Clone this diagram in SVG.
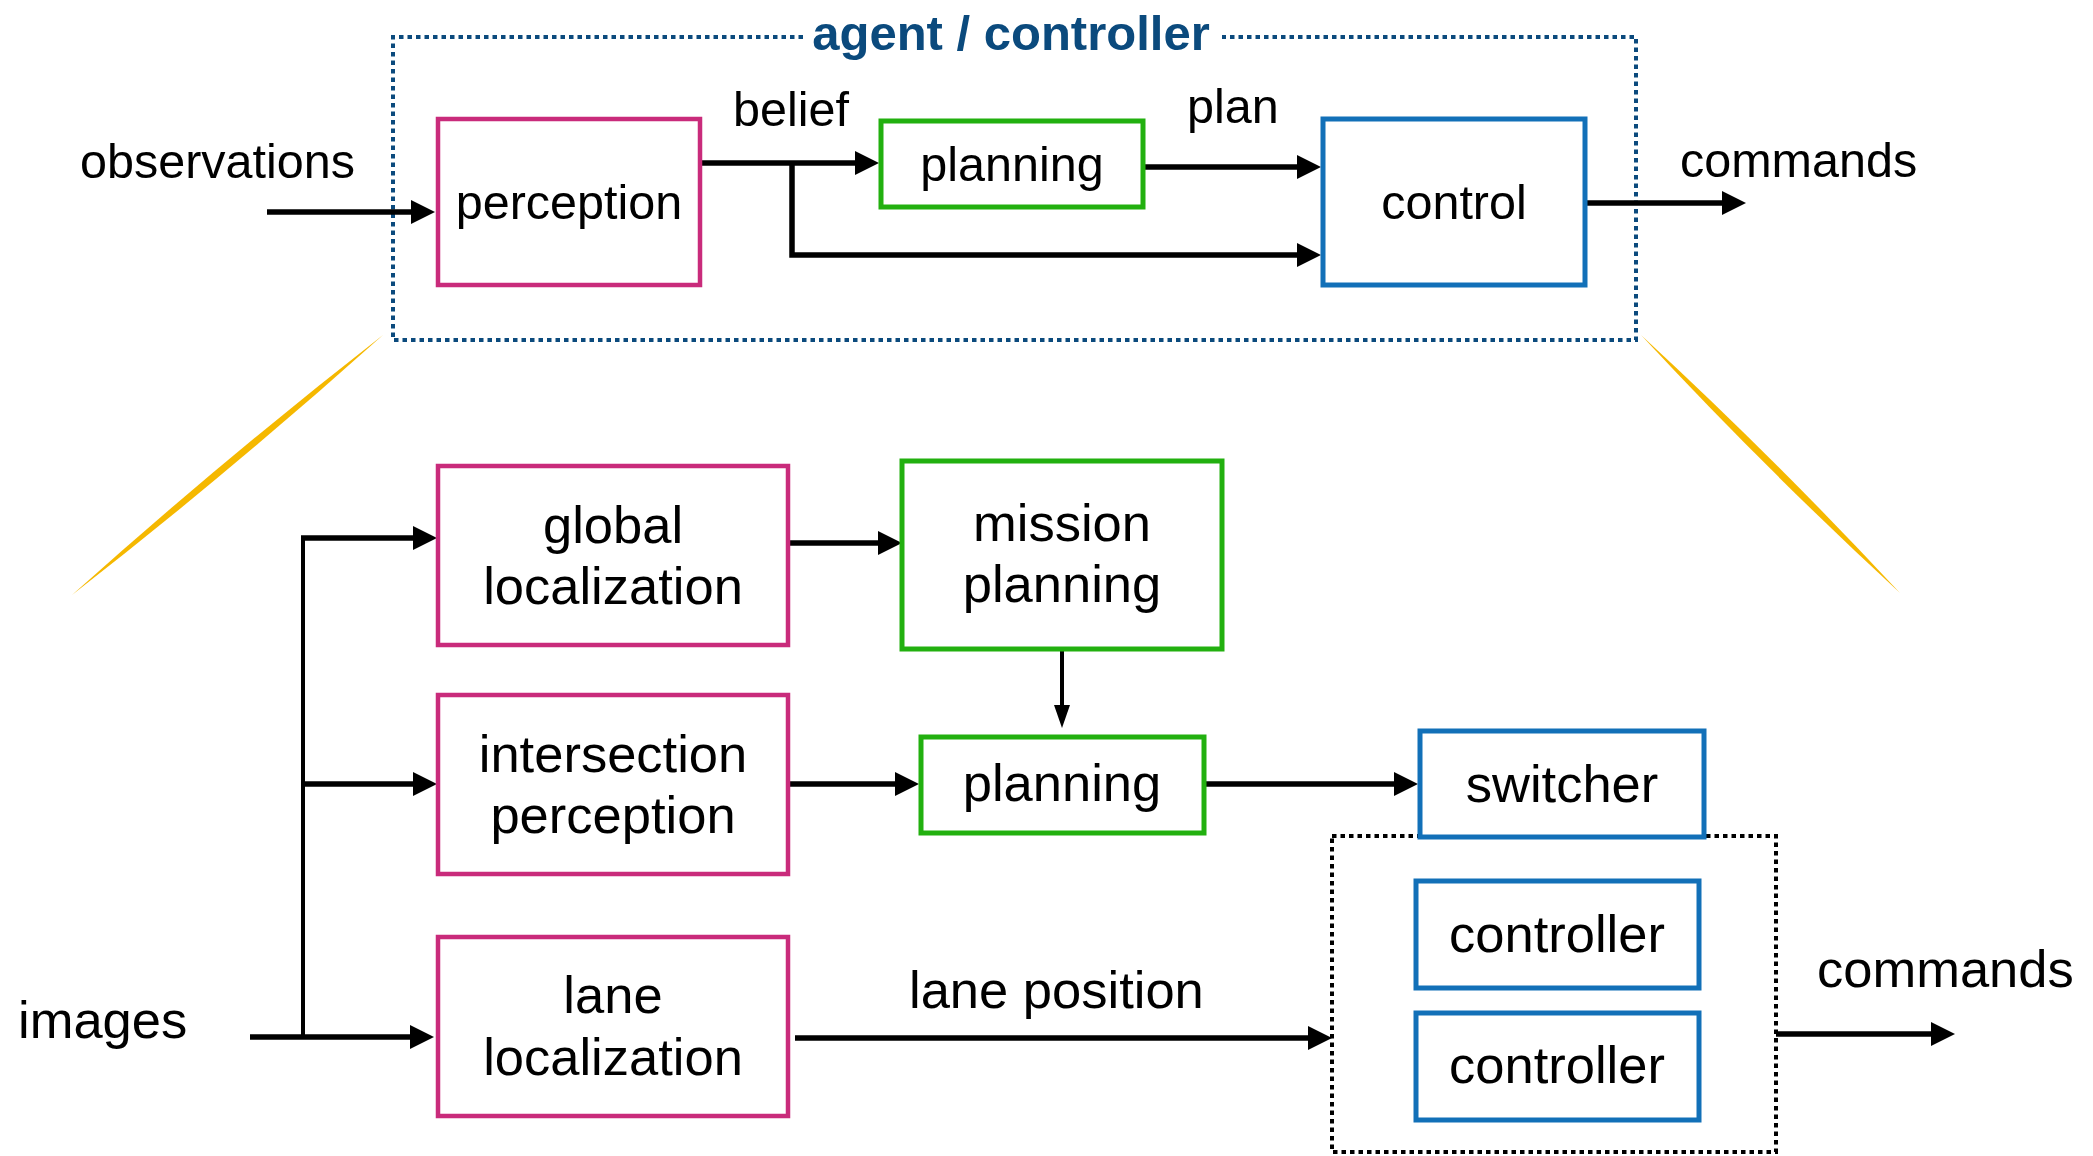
<svg xmlns="http://www.w3.org/2000/svg" width="2093" height="1156" viewBox="0 0 2093 1156">
<style>
text{font-family:"Liberation Sans",Arial,Helvetica,sans-serif;fill:#000}
.t{font-size:48.5px}
.b{font-size:52.5px}
.c{text-anchor:middle}
.box{fill:#fff;stroke-width:4.5}
.pk{stroke:#c92b7b}
.gr{stroke:#22b00f;stroke-width:5}
.bl{stroke:#1270b8;stroke-width:5}
.ln{fill:none;stroke:#000;stroke-width:5.5}
.thin{fill:none;stroke:#000;stroke-width:4}
.title{font-size:49px;font-weight:bold;fill:#0b4a7d}
</style>
<defs>
<marker id="ah" markerUnits="userSpaceOnUse" markerWidth="26" markerHeight="26" refX="8" refY="12" orient="auto">
<path d="M0,0 L24,12 L0,24 Z" fill="#000"/>
</marker>
<marker id="ahs" markerUnits="userSpaceOnUse" markerWidth="24" markerHeight="18" refX="8" refY="8" orient="auto">
<path d="M0,0 L23,8 L0,16 Z" fill="#000"/>
</marker>
</defs>

<g id="zoom-lines" fill="#f5b800">
<path d="M383,335 Q232,470.4 72,595 Q223,459.6 383,335 Z"/>
<path d="M1641,335 Q1775.4,459 1900,593 Q1765.6,469 1641,335 Z"/>
</g>

<g id="agent-frame">
<path d="M803,37 H393 V340 H1636 V37 H1222" fill="none" stroke="#0b4a7d" stroke-width="4" stroke-dasharray="4.5 4"/>
<text class="title c" x="1011" y="50">agent / controller</text>
</g>

<g id="controller-frame">
<rect x="1332" y="836" width="444" height="316" fill="none" stroke="#000" stroke-width="4" stroke-dasharray="4.5 4"/>
</g>

<g id="connectors">
<line class="ln" x1="267" y1="212" x2="419" y2="212" marker-end="url(#ah)"/>
<line class="ln" x1="700" y1="163" x2="863" y2="163" marker-end="url(#ah)"/>
<polyline class="ln" points="792,163 792,255 1305,255" marker-end="url(#ah)"/>
<line class="ln" x1="1143" y1="167" x2="1305" y2="167" marker-end="url(#ah)"/>
<line class="ln" x1="1585" y1="203" x2="1730" y2="203" marker-end="url(#ah)"/>

<line class="thin" x1="303" y1="538" x2="303" y2="1037"/>
<line class="ln" x1="301" y1="538" x2="421" y2="538" marker-end="url(#ah)"/>
<line class="ln" x1="301" y1="784" x2="421" y2="784" marker-end="url(#ah)"/>
<line class="ln" x1="250" y1="1037" x2="418" y2="1037" marker-end="url(#ah)"/>
<line class="ln" x1="788" y1="543" x2="886" y2="543" marker-end="url(#ah)"/>
<line class="thin" x1="1062" y1="649" x2="1062" y2="713" marker-end="url(#ahs)"/>
<line class="ln" x1="787" y1="784" x2="903" y2="784" marker-end="url(#ah)"/>
<line class="ln" x1="1204" y1="784" x2="1402" y2="784" marker-end="url(#ah)"/>
<line class="ln" x1="795" y1="1038" x2="1316" y2="1038" marker-end="url(#ah)"/>
<line class="ln" x1="1776" y1="1034" x2="1939" y2="1034" marker-end="url(#ah)"/>
</g>

<g id="labels">
<text class="t" x="80" y="178">observations</text>
<text class="t" x="733" y="126">belief</text>
<text class="t" x="1187" y="123">plan</text>
<text class="t" x="1680" y="177">commands</text>
<text class="b" x="18" y="1038">images</text>
<text class="b" x="909" y="1008">lane position</text>
<text class="b" x="1817" y="987">commands</text>
</g>

<g id="perception">
<rect class="box pk" x="438" y="119" width="262" height="166"/>
<text class="t c" x="569" y="219">perception</text>
</g>
<g id="planning-top">
<rect class="box gr" x="881" y="121" width="262" height="86"/>
<text class="t c" x="1012" y="181">planning</text>
</g>
<g id="control">
<rect class="box bl" x="1323" y="119" width="262" height="166"/>
<text class="t c" x="1454" y="219">control</text>
</g>

<g id="global-localization">
<rect class="box pk" x="438" y="466" width="350" height="179"/>
<text class="b c" x="613" y="543">global</text>
<text class="b c" x="613" y="604">localization</text>
</g>
<g id="mission-planning">
<rect class="box gr" x="902" y="461" width="320" height="188"/>
<text class="b c" x="1062" y="541">mission</text>
<text class="b c" x="1062" y="602">planning</text>
</g>
<g id="intersection-perception">
<rect class="box pk" x="438" y="695" width="350" height="179"/>
<text class="b c" x="613" y="772">intersection</text>
<text class="b c" x="613" y="833">perception</text>
</g>
<g id="planning-bottom">
<rect class="box gr" x="921" y="737" width="283" height="96"/>
<text class="b c" x="1062" y="801">planning</text>
</g>
<g id="switcher">
<rect class="box bl" x="1420" y="731" width="284" height="106"/>
<text class="b c" x="1562" y="802">switcher</text>
</g>
<g id="lane-localization">
<rect class="box pk" x="438" y="937" width="350" height="179"/>
<text class="b c" x="613" y="1013">lane</text>
<text class="b c" x="613" y="1075">localization</text>
</g>
<g id="controller-1">
<rect class="box bl" x="1416" y="881" width="283" height="107"/>
<text class="b c" x="1557" y="952">controller</text>
</g>
<g id="controller-2">
<rect class="box bl" x="1416" y="1013" width="283" height="107"/>
<text class="b c" x="1557" y="1083">controller</text>
</g>
</svg>
